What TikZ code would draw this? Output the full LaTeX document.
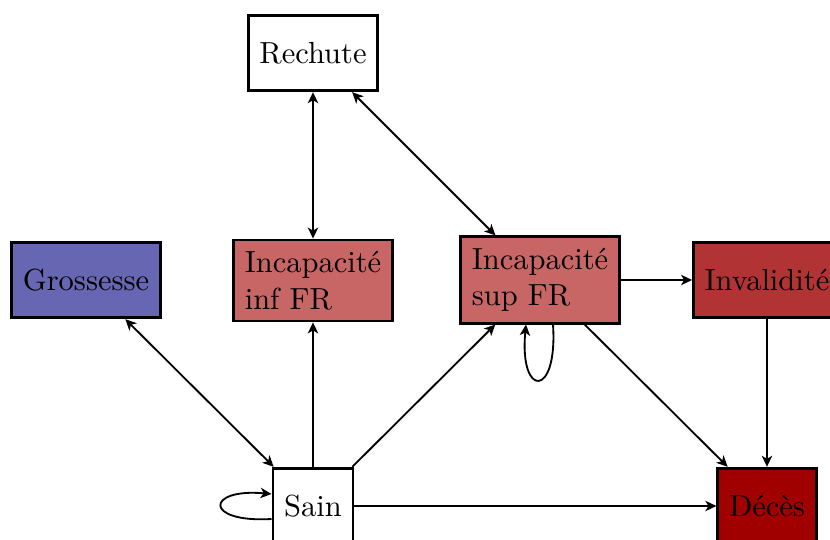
\documentclass[tikz,border=0pt]{standalone}
\usetikzlibrary{arrows.meta}
\definecolor{grosC}{RGB}{102,102,178}
\definecolor{incC}{RGB}{200,102,102}
\definecolor{invC}{RGB}{178,51,51}
\definecolor{decC}{RGB}{160,0,0}
\begin{document}
\begin{tikzpicture}[x=0.3279pt,y=-0.3279pt,
  state/.style={draw=black,line width=0.9pt,minimum height=24.8pt,inner sep=3.7pt,align=left},
  conn/.style={line width=0.6pt},
  >={Stealth[length=3.6pt,width=3.4pt,inset=1pt]}]
\useasboundingbox (0,0) rectangle (830,540);
\node[state] (R) at (313,53) {Rechute};
\node[state,fill=grosC] (G) at (86,280) {Grossesse};
\node[state,fill=incC] (II) at (313,280.5) {Incapacité\\inf FR};
\node[state,fill=incC] (IS) at (540,280) {Incapacité\\sup FR};
\node[state,fill=invC] (V) at (767,280) {Invalidité};
\node[state,fill=decC] (D) at (767,506) {Décès};
\node[state] (S) at (313,506) {Sain};
\draw[conn,<->] (R) -- (II);
\draw[conn,<->] (R) -- (IS);
\draw[conn,<->] (G) -- (S);
\draw[conn,->] (S) -- (II);
\draw[conn,->] (S) -- (IS);
\draw[conn,->] (S) -- (D);
\draw[conn,->] (IS) -- (V);
\draw[conn,->] (IS) -- (D);
\draw[conn,->] (V) -- (D);
\draw[conn,->] ([shift={(13,0)}]IS.south) .. controls +(5,74) and +(-7,74) .. ([shift={(-14,0)}]IS.south);
\draw[conn,->] ([shift={(0,13)}]S.west) .. controls +(-68,4) and +(-66,-6) .. ([shift={(0,-12)}]S.west);
\end{tikzpicture}
\end{document}
